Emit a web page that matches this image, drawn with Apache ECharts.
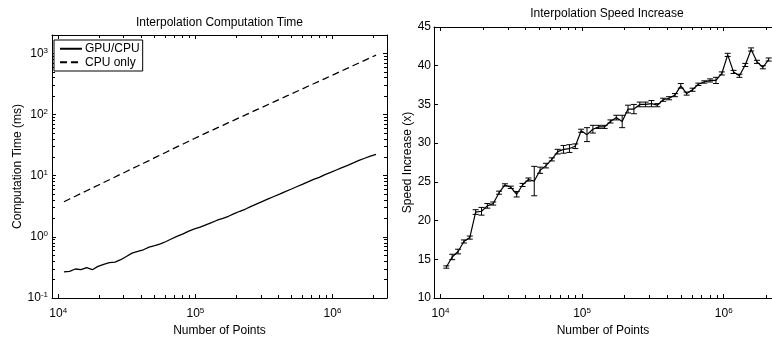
<!DOCTYPE html>
<html><head><meta charset="utf-8">
<script src="https://cdn.jsdelivr.net/npm/echarts@6/dist/echarts.min.js"></script>
<style>html,body{margin:0;padding:0;background:#fff}#c{width:772px;height:337px}</style>
</head><body><div id="c"></div>
<script>
// ---------------- data ----------------
const points = [11000, 12100, 13310, 14641, 16105, 17716, 19487, 21436, 23579, 25937,
  28531, 31384, 34523, 37975, 41772, 45950, 50545, 55599, 61159, 67275,
  74002, 81403, 89543, 98497, 108347, 119182, 131100, 144210, 158631, 174494,
  191943, 211138, 232252, 255477, 281024, 309127, 340039, 374043, 411448, 452593,
  497852, 547637, 602401, 662641, 728905, 801795, 881975, 970172, 1067190, 1173909,
  1291299, 1420429, 1562472, 1718719, 1890591, 2079650];
const gpuTime = [0.267, 0.273, 0.298, 0.29, 0.313, 0.29, 0.329, 0.355, 0.378, 0.387,
  0.423, 0.478, 0.543, 0.577, 0.615, 0.68, 0.72, 0.77, 0.84, 0.93,
  1.03, 1.12, 1.24, 1.35, 1.44, 1.57, 1.71, 1.87, 2.01, 2.17,
  2.4, 2.62, 2.85, 3.16, 3.47, 3.80, 4.17, 4.57, 5.0, 5.5,
  6.0, 6.6, 7.2, 7.9, 8.7, 9.4, 10.4, 11.3, 12.4, 13.6,
  14.8, 16.2, 17.8, 19.3, 20.9, 22.4];
const cpuTime = [3.75, 4.16, 4.61, 5.12, 5.68, 6.30, 6.98, 7.74, 8.59, 9.53,
  10.57, 11.7, 13.0, 14.4, 16.0, 17.7, 19.7, 21.8, 24.2, 26.9,
  29.8, 33.0, 36.6, 40.6, 45.1, 49.8, 54.8, 60.5, 66.7, 73.6,
  81.1, 89.5, 98.6, 109, 120, 132, 146, 161, 177, 196,
  216, 238, 262, 290, 319, 352, 388, 428, 472, 521,
  574, 634, 698, 771, 849, 938];
const speedup = [14.0, 15.3, 16.0, 17.3, 17.8, 21.1, 21.2, 21.9, 22.2, 23.6,
  24.6, 24.3, 23.4, 24.6, 25.3, 25.1, 26.5, 27.1, 27.9, 28.9,
  29.2, 29.3, 29.6, 31.6, 31.1, 31.8, 32.1, 32.1, 32.8, 33.3,
  32.8, 34.4, 34.4, 35.0, 35.0, 35.1, 34.9, 35.6, 35.8, 36.2,
  37.4, 36.4, 36.9, 37.6, 37.9, 38.1, 38.1, 39.0, 41.4, 39.2,
  38.7, 40.1, 42.1, 40.5, 39.8, 40.8];
const speedupErr = [0.15, 0.35, 0.3, 0.2, 0.2, 0.3, 0.5, 0.3, 0.2, 0.2,
  0.15, 0.15, 0.35, 0.2, 0.2, 1.9, 0.4, 0.3, 0.2, 0.3,
  0.5, 0.5, 0.3, 0.2, 0.9, 0.5, 0.2, 0.2, 0.2, 0.3,
  0.8, 0.5, 0.6, 0.3, 0.3, 0.4, 0.2, 0.2, 0.2, 0.2,
  0.3, 0.2, 0.2, 0.15, 0.15, 0.2, 0.4, 0.2, 0.2, 0.2,
  0.2, 0.2, 0.2, 0.2, 0.2, 0.2];
const xMajorTicks = [1e4, 1e5, 1e6];
const xMinorTicks = [2e4, 3e4, 4e4, 5e4, 6e4, 7e4, 8e4, 9e4,
  2e5, 3e5, 4e5, 5e5, 6e5, 7e5, 8e5, 9e5, 2e6];
const yTimeMajorTicks = [0.1, 1, 10, 100, 1000];
const yTimeMinorTicks = [0.2, 0.3, 0.4, 0.5, 0.6, 0.7, 0.8, 0.9,
  2, 3, 4, 5, 6, 7, 8, 9, 20, 30, 40, 50, 60, 70, 80, 90,
  200, 300, 400, 500, 600, 700, 800, 900];
const ySpeedTicks = [10, 15, 20, 25, 30, 35, 40, 45];

// ---------------- chart ----------------
const FONT = 'Liberation Sans, Arial, Helvetica, sans-serif';
const X_MIN = 9000;
const X_MAX = [2500000, 2194000];   // right panel is cropped at the page edge
const supFmt = v => '{b|10}{s|' + Math.round(Math.log10(v)) + '}';
const richSup = {
  b: {fontSize: 12, fontFamily: FONT, color: '#000', lineHeight: 14},
  s: {fontSize: 8, fontFamily: FONT, color: '#000', lineHeight: 8, verticalAlign: 'top'}
};
const black = {color: '#000', width: 1};

function logAxis(kind, grid, pos, ticks, len, o) {
  o = o || {};
  const a = {
    type: 'log', logBase: 10, gridIndex: grid, position: pos,
    min: kind === 'x' ? X_MIN : 0.1, max: kind === 'x' ? X_MAX[grid] : 2000,
    axisLine: {show: !!o.line, onZero: false, lineStyle: black},
    axisTick: {show: true, inside: true, length: len, customValues: ticks, lineStyle: black},
    axisLabel: {show: !!o.labels},
    splitLine: {show: false}, minorTick: {show: false}, minorSplitLine: {show: false},
    silent: true
  };
  if (o.labels) {
    a.axisLabel = {show: true, customValues: o.labels, formatter: supFmt, rich: richSup,
      margin: kind === 'x' ? 9 : 4};
  }
  if (o.name) {
    a.name = o.name; a.nameLocation = 'middle'; a.nameGap = o.nameGap;
    a.nameTextStyle = {fontSize: 12, fontFamily: FONT, color: '#000'};
  }
  return a;
}
function valAxis(grid, pos, o) {
  o = o || {};
  const a = {
    type: 'value', gridIndex: grid, position: pos, min: 10, max: 45, interval: 5,
    axisLine: {show: true, onZero: false, lineStyle: black},
    axisTick: {show: true, inside: true, length: 4, customValues: ySpeedTicks, lineStyle: black},
    axisLabel: {show: !!o.labels, fontSize: 12, fontFamily: FONT, color: '#000', margin: 3},
    splitLine: {show: false}, silent: true
  };
  if (o.name) {
    a.name = o.name; a.nameLocation = 'middle'; a.nameGap = o.nameGap;
    a.nameTextStyle = {fontSize: 12, fontFamily: FONT, color: '#000'};
  }
  return a;
}

const gpuData = points.map((x, i) => [x, gpuTime[i]]);
const cpuData = points.map((x, i) => [x, cpuTime[i]]);
const spData = points.map((x, i) => [x, speedup[i]]);
const errData = points.map((x, i) => [x, speedup[i] - speedupErr[i], speedup[i] + speedupErr[i]]);

const option = {
  backgroundColor: '#fff',
  animation: false,
  textStyle: {fontFamily: FONT},
  title: [
    {text: 'Interpolation Computation Time', left: 219.5, top: 17, textAlign: 'center', padding: 0,
      textStyle: {fontSize: 12, fontWeight: 'normal', color: '#000', fontFamily: FONT}},
    {text: 'Interpolation Speed Increase', left: 607, top: 8, textAlign: 'center', padding: 0,
      textStyle: {fontSize: 12, fontWeight: 'normal', color: '#000', fontFamily: FONT}}
  ],
  grid: [
    {left: 52, top: 35, width: 335, height: 263, outerBoundsMode: 'none', containLabel: false},
    {left: 434, top: 27, width: 338, height: 271, outerBoundsMode: 'none', containLabel: false}
  ],
  legend: {
    left: 54, top: 40, orient: 'vertical', itemWidth: 22, itemHeight: 10, itemGap: 0,
    padding: [2, 3, 2, 5], borderColor: '#000', borderWidth: 1, borderRadius: 0,
    backgroundColor: '#fff', itemStyle: {opacity: 0},
    textStyle: {fontSize: 12, color: '#000', fontFamily: FONT, lineHeight: 13.5, padding: [0, 0, 0, -2]},
    data: ['GPU/CPU', 'CPU only']
  },
  xAxis: [
    logAxis('x', 0, 'bottom', xMajorTicks, 4, {line: true, labels: xMajorTicks, name: 'Number of Points', nameGap: 16}),
    logAxis('x', 0, 'bottom', xMinorTicks, 3),
    logAxis('x', 0, 'top', xMajorTicks, 4, {line: true}),
    logAxis('x', 0, 'top', xMinorTicks, 3),
    logAxis('x', 1, 'bottom', xMajorTicks, 4, {line: true, labels: xMajorTicks, name: 'Number of Points', nameGap: 16}),
    logAxis('x', 1, 'bottom', xMinorTicks, 3),
    logAxis('x', 1, 'top', xMajorTicks, 4, {line: true}),
    logAxis('x', 1, 'top', xMinorTicks, 3)
  ],
  yAxis: [
    logAxis('y', 0, 'left', yTimeMajorTicks, 4, {line: true, labels: yTimeMajorTicks, name: 'Computation Time (ms)', nameGap: 26}),
    logAxis('y', 0, 'left', yTimeMinorTicks, 3),
    logAxis('y', 0, 'right', yTimeMajorTicks, 4, {line: true}),
    logAxis('y', 0, 'right', yTimeMinorTicks, 3),
    valAxis(1, 'left', {labels: true, name: 'Speed Increase (x)', nameGap: 19})
  ],
  series: [
    {name: 'GPU/CPU', type: 'line', xAxisIndex: 0, yAxisIndex: 0, data: gpuData,
      symbol: 'none', lineStyle: {color: '#000', width: 1.3}, itemStyle: {color: '#000'}},
    {name: 'CPU only', type: 'line', xAxisIndex: 0, yAxisIndex: 0, data: cpuData,
      symbol: 'none', lineStyle: {color: '#000', width: 1.3, type: [7, 4]}, itemStyle: {color: '#000'}},
    {name: 'speed', type: 'line', xAxisIndex: 4, yAxisIndex: 4, data: spData,
      symbol: 'none', lineStyle: {color: '#000', width: 1.2}},
    {name: 'err', type: 'custom', xAxisIndex: 4, yAxisIndex: 4, data: errData, clip: false,
      renderItem: function (params, api) {
        const lo = api.coord([api.value(0), api.value(1)]);
        const hi = api.coord([api.value(0), api.value(2)]);
        const hw = 3;
        const st = {stroke: '#000', lineWidth: 1};
        return {type: 'group', children: [
          {type: 'line', shape: {x1: lo[0], y1: lo[1], x2: hi[0], y2: hi[1]}, style: st},
          {type: 'line', shape: {x1: lo[0] - hw, y1: lo[1], x2: lo[0] + hw, y2: lo[1]}, style: st},
          {type: 'line', shape: {x1: hi[0] - hw, y1: hi[1], x2: hi[0] + hw, y2: hi[1]}, style: st}
        ]};
      }}
  ]
};
const chart = echarts.init(document.getElementById('c'), null, {renderer: 'canvas'});
chart.setOption(option);
</script>
</body></html>
